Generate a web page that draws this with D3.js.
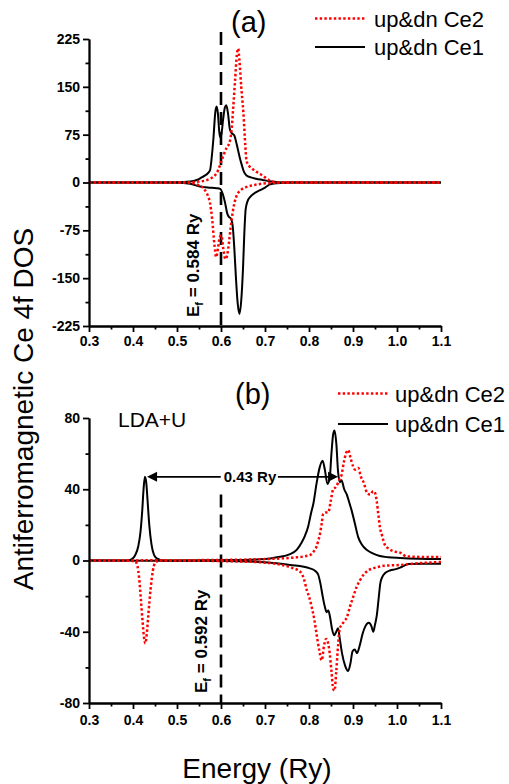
<!DOCTYPE html>
<html lang="en">
  <head>
    <meta charset="utf-8">
    <title>Antiferromagnetic Ce 4f DOS</title>
    <script type="text/javascript" src="https://cdn.jsdelivr.net/npm/d3@7"></script>
    <style>
    body { margin: 0; background: #ffffff; }
    #chart { width: 509px; height: 784px; }
    text { font-family: Arial, "Liberation Sans", sans-serif; }
    .axis path, .axis line { stroke: #000; stroke-width: 1.8px; }
    </style>
  </head>
  <body>
    <div id="chart"></div>
    <script type="text/javascript">

      // ---- data ----
      var xTicks = [0.3, 0.4, 0.5, 0.6, 0.7, 0.8, 0.9, 1.0, 1.1];
      var xMinor = [0.35, 0.45, 0.55, 0.65, 0.75, 0.85, 0.95, 1.05];
      var yTicksA = [225, 150, 75, 0, -75, -150, -225];
      var yMinorA = [187.5, 112.5, 37.5, -37.5, -112.5, -187.5];
      var yTicksB = [80, 40, 0, -40, -80];
      var yMinorB = [60, 20, -20, -60];
      var legendNames = ["up&dn Ce2", "up&dn Ce1"];

      // panel (a): [energy, DOS]
      var ce1UpA = [[0.30,0],[0.50,0.3],[0.53,1.5],[0.545,4],[0.556,8],[0.566,12],[0.575,19],[0.579,40],
        [0.583,71],[0.587,110],[0.590,119],[0.593,108],[0.596,80],[0.598,71],[0.601,76],[0.605,100],
        [0.609,118],[0.612,121],[0.616,108],[0.620,84],[0.625,77],[0.630,74],[0.635,62],[0.639,50],
        [0.643,38],[0.647,28],[0.652,17],[0.658,11],[0.668,8],[0.680,6],[0.695,4],[0.71,2],[0.73,0.5],
        [0.76,0],[1.1,0]];
      var ce1DnA = [[0.30,0],[0.50,-0.3],[0.53,-2],[0.55,-6],[0.57,-8],[0.59,-9],[0.598,-10],[0.604,-18],
        [0.609,-31],[0.614,-48],[0.618,-54],[0.622,-56],[0.626,-65],[0.630,-100],[0.634,-150],
        [0.638,-190],[0.642,-206],[0.646,-185],[0.650,-135],[0.653,-80],[0.656,-42],[0.660,-30],
        [0.667,-22],[0.678,-16],[0.689,-12],[0.700,-8],[0.711,-3],[0.72,-1.5],[0.74,-0.5],[0.76,0],[1.1,0]];
      var ce2UpA = [[0.30,0],[0.53,0.3],[0.55,1.5],[0.564,3],[0.578,7],[0.586,11],[0.594,20],[0.601,34],
        [0.607,45],[0.613,55],[0.619,62],[0.624,82],[0.628,120],[0.632,160],[0.636,200],[0.639,210],
        [0.642,190],[0.646,150],[0.651,108],[0.655,60],[0.658,34],[0.664,26],[0.670,22],[0.680,17],
        [0.690,13],[0.700,8],[0.711,3],[0.72,1],[0.74,0],[1.1,0]];
      var ce2DnA = [[0.30,0],[0.53,-0.5],[0.545,-3],[0.56,-9],[0.567,-16],[0.571,-22],[0.575,-32],
        [0.580,-58],[0.585,-97],[0.589,-117],[0.593,-104],[0.597,-86],[0.601,-83],[0.605,-103],
        [0.610,-120],[0.614,-114],[0.618,-95],[0.622,-70],[0.627,-45],[0.632,-28],[0.636,-20],
        [0.645,-12],[0.658,-7],[0.675,-4],[0.692,-2],[0.71,-1],[0.74,0],[1.1,0]];

      // panel (b): [energy, DOS]
      var ce1UpB = [[0.30,0],[0.38,0],[0.395,0.5],[0.405,3],[0.412,8],[0.417,16],[0.421,28],[0.424,40],
        [0.427,47],[0.430,44],[0.433,34],[0.437,20],[0.442,9],[0.448,3],[0.455,1],[0.47,0],[0.65,0.3],
        [0.70,0.8],[0.727,1.8],[0.757,3.6],[0.772,6],[0.783,10],[0.791,14],[0.798,19],[0.805,27],
        [0.810,32],[0.817,43],[0.824,52],[0.831,56],[0.836,51],[0.842,43],[0.847,46],[0.851,60],
        [0.855,71],[0.858,73],[0.862,66],[0.866,50],[0.870,44],[0.874,45],[0.880,40],[0.886,37],
        [0.891,33],[0.897,28],[0.904,21],[0.912,13],[0.920,9],[0.931,6],[0.945,4],[0.961,2.5],
        [0.98,1.8],[1.007,1.4],[1.05,1],[1.1,0.8]];
      var ce1DnB = [[0.30,0],[0.60,-0.3],[0.70,-1],[0.757,-2.5],[0.802,-4.4],[0.815,-6],[0.821,-8],
        [0.826,-13],[0.831,-20],[0.836,-26],[0.840,-29],[0.844,-28],[0.848,-32],[0.852,-38],
        [0.857,-42],[0.862,-40],[0.866,-38],[0.870,-44],[0.875,-52],[0.882,-59],[0.889,-62],
        [0.894,-58],[0.899,-51],[0.904,-50],[0.909,-52],[0.915,-48],[0.922,-41],[0.928,-37],
        [0.936,-35],[0.942,-37],[0.946,-40],[0.950,-36],[0.954,-31],[0.958,-22],[0.962,-13],
        [0.967,-9],[0.973,-7],[0.985,-5.5],[0.995,-5],[1.007,-4],[1.014,-3.2],[1.025,-2],
        [1.06,-1.8],[1.1,-1.8]];
      var ce2UpB = [[0.30,0],[0.60,0.3],[0.70,0.8],[0.74,1.2],[0.772,1.8],[0.802,3],[0.812,5.5],
        [0.817,7.8],[0.821,11],[0.825,15],[0.829,21],[0.832,26],[0.838,27],[0.844,27],[0.849,33],
        [0.855,40],[0.860,41],[0.865,43],[0.870,46],[0.874,48],[0.879,55],[0.884,60],[0.889,62],
        [0.894,58],[0.900,53],[0.905,51],[0.912,52],[0.918,47],[0.924,44],[0.932,38],[0.939,37],
        [0.946,39],[0.950,38],[0.954,33],[0.958,25],[0.961,19],[0.966,14],[0.972,9],[0.980,6.8],
        [0.995,5],[1.007,4.4],[1.022,2.3],[1.06,2],[1.1,2]];
      var ce2DnB = [[0.30,0],[0.38,0],[0.405,-0.5],[0.410,-3],[0.414,-10],[0.418,-22],[0.422,-35],
        [0.425,-43],[0.428,-46.5],[0.431,-42],[0.435,-30],[0.440,-16],[0.445,-6],[0.450,-1.5],
        [0.46,0],[0.60,-0.3],[0.70,-1.2],[0.757,-3.8],[0.780,-6.3],[0.788,-10],[0.795,-16.6],
        [0.801,-21],[0.806,-26],[0.812,-33],[0.817,-41],[0.823,-50],[0.829,-56],[0.834,-48],
        [0.839,-44],[0.843,-46],[0.847,-52],[0.851,-62],[0.855,-72],[0.858,-73],[0.862,-62],
        [0.866,-48],[0.870,-38],[0.875,-36],[0.880,-34],[0.886,-32],[0.893,-26],[0.901,-20],
        [0.908,-15],[0.916,-11],[0.924,-8],[0.936,-5.3],[0.946,-4.4],[0.954,-3.8],[0.97,-3],
        [1.007,-2.5],[1.05,-1.5],[1.1,-0.8]];

      // ---- svg ----
      var svg = d3.select('#chart')
        .append('svg')
          .attr('width', 509)
          .attr('height', 784)
          .style('background', '#ffffff');

      var fmtX = d3.format('.1f');

      // bold tick labels, set directly on the text nodes
      function styleTicks(sel) {
        sel.selectAll('text')
          .attr('font-size', 14)
          .attr('font-weight', 'bold')
          .attr('font-family', 'Arial, "Liberation Sans", sans-serif')
          .attr('fill', '#000');
      }

      function drawPanel(p) {
        var x = d3.scaleLinear().domain([0.3, 1.1]).range([89, 441]);
        var y = d3.scaleLinear().domain(p.yDomain).range([p.yBottom, p.yTop]);

        var g = svg.append('g');

        // fermi level dashed line
        g.append('line')
          .attr('x1', x(0.6)).attr('x2', x(0.6))
          .attr('y1', y(p.fermiTop)).attr('y2', y(p.yDomain[0]))
          .attr('stroke', '#000')
          .attr('stroke-width', 2.6)
          .attr('stroke-dasharray', '13,7');

        var line = d3.line()
          .x(function(d) { return x(d[0]); })
          .y(function(d) { return y(d[1]); })
          .curve(d3.curveMonotoneX);

        p.black.forEach(function(s) {
          g.append('path').datum(s)
            .attr('d', line)
            .attr('fill', 'none')
            .attr('stroke', '#000')
            .attr('stroke-width', 2);
        });
        p.red.forEach(function(s) {
          g.append('path').datum(s)
            .attr('d', line)
            .attr('fill', 'none')
            .attr('stroke', '#ff0000')
            .attr('stroke-width', 2.5)
            .attr('stroke-dasharray', '2.4,2.3');
        });

        // axes: major + minor ticks
        g.append('g').attr('class', 'axis')
          .attr('transform', 'translate(0,' + p.yBottom + ')')
          .call(d3.axisBottom(x).tickValues(xMinor).tickSize(3.5).tickFormat('').tickSizeOuter(0));
        g.append('g').attr('class', 'axis')
          .attr('transform', 'translate(0,' + p.yBottom + ')')
          .call(d3.axisBottom(x).tickValues(xTicks).tickSize(6).tickPadding(p.xPad)
            .tickFormat(fmtX).tickSizeOuter(0))
          .call(styleTicks);
        g.append('g').attr('class', 'axis')
          .attr('transform', 'translate(89,0)')
          .call(d3.axisLeft(y).tickValues(p.yMinor).tickSize(3.5).tickFormat('').tickSizeOuter(0));
        g.append('g').attr('class', 'axis')
          .attr('transform', 'translate(89,0)')
          .call(d3.axisLeft(y).tickValues(p.yTicks).tickSize(6).tickPadding(3)
            .tickFormat(function(d) { return String(d); }).tickSizeOuter(0))
          .call(styleTicks);

        // fermi label (rotated)
        var ft = g.append('text')
          .attr('transform', 'translate(' + p.fermiLabelX + ',' + p.fermiLabelY + ') rotate(-90)')
          .attr('font-size', 17)
          .attr('font-weight', 'bold');
        ft.append('tspan').text('E');
        ft.append('tspan').attr('font-size', 11).attr('dy', 4).text('f');
        ft.append('tspan').attr('dy', -4).text(' = ' + p.fermiText);

        // panel label
        g.append('text')
          .attr('x', p.tagX).attr('y', p.tagY)
          .attr('font-size', 29)
          .text(p.tag);

        // legend
        var legend = g.append('g');
        legendNames.forEach(function(name, i) {
          var ly = p.legendY + i * p.legendStep;
          legend.append('line')
            .attr('x1', p.legendX).attr('x2', p.legendX + 50)
            .attr('y1', ly).attr('y2', ly)
            .attr('stroke', i === 0 ? '#ff0000' : '#000')
            .attr('stroke-width', i === 0 ? 2.5 : 2)
            .attr('stroke-dasharray', i === 0 ? '2.4,2.3' : null);
          legend.append('text')
            .attr('x', p.legendX + p.legendGap).attr('y', ly + 8)
            .attr('font-size', 22)
            .text(name);
        });

        return { x: x, y: y, g: g };
      }

      var a = drawPanel({
        yDomain: [-225, 225], yTop: 39, yBottom: 326,
        yTicks: yTicksA, yMinor: yMinorA, xPad: 4,
        black: [ce1UpA, ce1DnA], red: [ce2UpA, ce2DnA],
        fermiTop: 236, fermiText: '0.584 Ry', fermiLabelX: 199, fermiLabelY: 317,
        tag: '(a)', tagX: 231, tagY: 32,
        legendX: 315, legendY: 18.5, legendStep: 28.5, legendGap: 59
      });

      var b = drawPanel({
        yDomain: [-80, 80], yTop: 418, yBottom: 703,
        yTicks: yTicksB, yMinor: yMinorB, xPad: 6,
        black: [ce1UpB, ce1DnB], red: [ce2UpB, ce2DnB],
        fermiTop: 37, fermiText: '0.592 Ry', fermiLabelX: 207, fermiLabelY: 693,
        tag: '(b)', tagX: 235, tagY: 404,
        legendX: 338, legendY: 393.5, legendStep: 30.5, legendGap: 57
      });

      // LDA+U label
      b.g.append('text')
        .attr('x', 118).attr('y', 427)
        .attr('font-size', 21)
        .text('LDA+U');

      // double arrow with gap label, panel (b)
      var arrowFrom = [0.432, 47], arrowTo = [0.866, 46];
      var ax1 = b.x(arrowFrom[0]), ax2 = b.x(arrowTo[0]), ay = b.y(arrowFrom[1]);
      var gapLabel = b.g.append('text')
        .attr('x', 250).attr('y', ay + 5)
        .attr('text-anchor', 'middle')
        .attr('font-size', 15)
        .attr('font-weight', 'bold')
        .text('0.43 Ry');
      var bb = gapLabel.node().getBBox();
      b.g.append('line')
        .attr('x1', ax1 + 8).attr('x2', bb.x - 3)
        .attr('y1', ay).attr('y2', ay)
        .attr('stroke', '#000').attr('stroke-width', 1.8);
      b.g.append('line')
        .attr('x1', bb.x + bb.width + 1).attr('x2', ax2 - 8)
        .attr('y1', ay).attr('y2', ay)
        .attr('stroke', '#000').attr('stroke-width', 1.8);
      b.g.append('path')
        .attr('d', 'M' + ax1 + ',' + ay + 'L' + (ax1 + 10) + ',' + (ay - 5) + 'L' + (ax1 + 10) + ',' + (ay + 5) + 'Z')
        .attr('fill', '#000');
      b.g.append('path')
        .attr('d', 'M' + ax2 + ',' + ay + 'L' + (ax2 - 10) + ',' + (ay - 5) + 'L' + (ax2 - 10) + ',' + (ay + 5) + 'Z')
        .attr('fill', '#000');

      // axis titles
      svg.append('text')
        .attr('transform', 'translate(33,409) rotate(-90)')
        .attr('text-anchor', 'middle')
        .attr('font-size', 28)
        .text('Antiferromagnetic Ce 4f DOS');

      svg.append('text')
        .attr('x', 257).attr('y', 778)
        .attr('text-anchor', 'middle')
        .attr('font-size', 28)
        .text('Energy (Ry)');

    </script>
  </body>
</html>
